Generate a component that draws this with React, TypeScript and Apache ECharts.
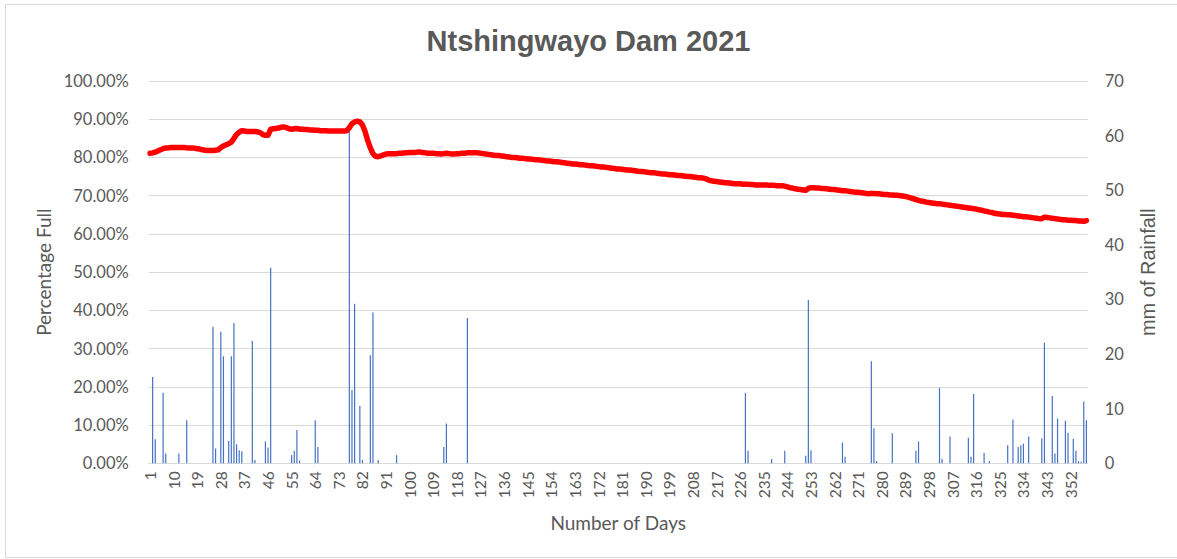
import React, { useEffect, useRef } from "react";
import * as echarts from "echarts";

const TITLE = "Ntshingwayo Dam 2021";
const DAY_COUNT = 358;
const days: string[] = Array.from({ length: DAY_COUNT }, (_, i) => String(i + 1));

// Percentage full, day by day
const pctFull: number[] = [
  // 1-27
  81.1, 81.2, 81.4, 81.7, 82.0, 82.3, 82.5,
  82.5, 82.6, 82.6, 82.6, 82.6, 82.6, 82.6, 82.5, 82.5, 82.5, 82.4,
  82.3, 82.2, 82.0, 81.9, 81.8, 81.8, 81.8, 81.9, 82.0,
  // 28-46
  82.6, 83.0, 83.3, 83.6, 84.0, 85.0, 86.0, 86.6, 87.0, 86.9,
  86.8, 86.8, 86.8, 86.8, 86.7, 86.5, 86.0, 85.8, 85.8,
  // 47-76
  87.4, 87.5, 87.6, 87.7, 87.9, 88.0, 87.8, 87.5, 87.4,
  87.5, 87.6, 87.4, 87.4, 87.3, 87.3, 87.2,
  87.2, 87.1, 87.1, 87.0, 87.0, 87.0, 86.9, 86.9, 86.9, 86.9, 86.9, 86.9, 86.9, 87.0,
  // 77-95
  87.8, 88.8, 89.3, 89.5, 89.3, 88.5, 86.8,
  84.4, 82.5, 81.0, 80.3, 80.2,
  80.4, 80.7, 80.9, 81.0, 81.0, 81.0, 81.0,
  // 96-137
  81.1, 81.1, 81.2, 81.2, 81.3, 81.3, 81.3, 81.4, 81.4, 81.3, 81.2, 81.1, 81.1, 81.1, 81.0,
  81.0, 80.9, 81.0, 81.1, 81.0, 80.9, 80.9, 81.0, 81.0, 81.1, 81.1, 81.2, 81.2, 81.2, 81.2,
  81.2, 81.1, 81.0, 80.9, 80.8, 80.7, 80.6, 80.5, 80.5, 80.4, 80.3, 80.2,
  // 138-175
  80.1, 80.0, 80.0, 79.9, 79.8, 79.8, 79.7, 79.6, 79.6, 79.5, 79.4, 79.4, 79.3, 79.2, 79.1, 79.1, 79.0, 78.9, 78.9,
  78.8, 78.7, 78.6, 78.5, 78.4, 78.3, 78.3, 78.2, 78.1, 78.1, 78.0, 77.9, 77.8, 77.8, 77.7, 77.6, 77.5, 77.5, 77.4,
  // 176-215
  77.3, 77.2, 77.1, 77.0, 77.0, 76.9, 76.8, 76.7, 76.7, 76.6, 76.5, 76.4, 76.3, 76.3, 76.2, 76.1, 76.0, 76.0, 75.9, 75.8, 75.7, 75.7, 75.6, 75.5, 75.5,
  75.4, 75.3, 75.3, 75.2, 75.1, 75.0, 75.0, 74.9, 74.8, 74.7, 74.7, 74.6, 74.4, 74.1, 73.9,
  // 216-258
  73.8, 73.7, 73.6, 73.5, 73.4, 73.4, 73.3, 73.2, 73.1, 73.1, 73.1, 73.0, 73.0, 73.0, 72.9, 72.9, 72.8,
  72.8, 72.8, 72.8, 72.8, 72.7, 72.7, 72.7, 72.6, 72.6, 72.6, 72.5, 72.3, 72.1, 72.0, 71.8, 71.7, 71.6, 71.5,
  71.4, 71.9, 72.1, 72.1, 72.0, 72.0, 71.9, 71.9,
  // 259-290
  71.8, 71.7, 71.6, 71.6, 71.5, 71.4, 71.3, 71.3, 71.2, 71.1,
  71.0, 70.9, 70.9, 70.8, 70.7, 70.6, 70.5, 70.6, 70.6, 70.5,
  70.5, 70.4, 70.3, 70.3, 70.2, 70.2, 70.1, 70.1, 70.0, 69.9,
  69.8, 69.6,
  // 291-330
  69.4, 69.2, 69.0, 68.8, 68.6, 68.5, 68.3, 68.2, 68.1, 68.0,
  67.9, 67.9, 67.8, 67.7, 67.6, 67.5, 67.4, 67.3, 67.2, 67.1,
  67.0, 66.9, 66.8, 66.7, 66.6, 66.5, 66.3, 66.2, 66.0, 65.9,
  65.7, 65.6, 65.4, 65.3, 65.2, 65.1, 65.1, 65.0, 65.0, 64.9,
  // 331-358
  64.8, 64.7, 64.6, 64.5, 64.5, 64.4, 64.3, 64.2, 64.1, 64.0, 64.0, 64.4, 64.3, 64.2, 64.1,
  64.0, 63.9, 63.8, 63.7, 63.7, 63.6, 63.6, 63.5, 63.5, 63.4, 63.4, 63.3, 63.5,
];

// Rainfall: days with rain and their mm
const rainDays: number[] = [
  2, 3, 6, 7, 12, 15, 25, 26, 28, 29, 31, 32, 33, 34, 35, 36, 40, 41, 45, 46, 47,
  55, 56, 57, 58, 64, 65, 77, 78, 79, 81, 82, 85, 86, 88, 95, 113, 114, 122,
  228, 229, 238, 243, 251, 252, 253, 265, 266, 276, 277, 278, 284, 293, 294,
  302, 303, 306, 313, 314, 315, 319, 321, 328, 330, 332, 333, 334, 336,
  341, 342, 345, 346, 347, 350, 351, 353, 354, 355, 356, 357, 358,
];
const rainMm: number[] = [
  15.8, 4.4, 12.9, 1.8, 1.8, 7.9, 25.0, 2.7, 24.1, 19.6, 4.1, 19.6, 25.7, 3.5, 2.4, 2.2, 22.4, 0.6, 4.0, 2.9, 35.8,
  1.5, 2.3, 6.1, 0.5, 7.9, 3.0, 61.0, 13.4, 29.2, 10.5, 0.6, 19.8, 27.6, 0.6, 1.5, 3.0, 7.3, 26.6,
  12.9, 2.3, 0.8, 2.3, 1.4, 29.9, 2.4, 3.8, 1.2, 18.7, 6.4, 0.4, 5.5, 2.3, 4.0,
  13.8, 0.8, 4.9, 4.7, 1.2, 12.7, 1.9, 0.4, 3.3, 8.0, 3.0, 3.3, 3.6, 4.9,
  4.6, 22.1, 12.3, 1.8, 8.2, 7.8, 5.6, 4.5, 2.3, 0.4, 0.3, 11.3, 7.9,
];

const rainfall: number[] = days.map(() => 0);
rainDays.forEach((d, i) => {
  rainfall[d - 1] = rainMm[i];
});

const GREY = "#595959";
const GRID = "#D9D9D9";

export default function App() {
  const ref = useRef<HTMLDivElement>(null);
  useEffect(() => {
    if (!ref.current) return;
    const chart = echarts.init(ref.current, null, { renderer: "svg" });
    chart.setOption({
      animation: false,
      backgroundColor: "#ffffff",
      title: {
        text: TITLE,
        left: "center",
        top: 21,
        textStyle: {
          fontFamily: "Liberation Sans",
          fontWeight: "bold",
          fontSize: 29,
          color: GREY,
        },
      },
      graphic: [
        {
          type: "rect",
          shape: { x: 5.5, y: 4.5, width: 1175, height: 553 },
          style: { fill: "none", stroke: GRID, lineWidth: 1 },
          silent: true,
        },
      ],
      grid: { left: 148.7, right: 89.3, top: 81, bottom: 95.7, containLabel: false },
      xAxis: {
        type: "category",
        data: days,
        boundaryGap: true,
        axisTick: { show: false },
        axisLine: { lineStyle: { color: GRID, width: 1 } },
        axisLabel: {
          interval: 8,
          rotate: 90,
          fontFamily: "Lato",
          fontSize: 15.5,
          color: GREY,
          margin: 8,
        },
        name: "Number of Days",
        nameLocation: "middle",
        nameGap: 50,
        nameTextStyle: { fontFamily: "Lato", fontSize: 19, color: GREY },
      },
      yAxis: [
        {
          type: "value",
          min: 0,
          max: 100,
          interval: 10,
          position: "left",
          axisLine: { show: false },
          axisTick: { show: false },
          splitLine: { lineStyle: { color: GRID, width: 1 } },
          axisLabel: {
            formatter: (v: number) => v.toFixed(2) + "%",
            fontFamily: "Lato",
            fontSize: 16.5,
            color: GREY,
            margin: 20,
          },
          name: "Percentage Full",
          nameLocation: "middle",
          nameRotate: 90,
          nameGap: 94,
          nameTextStyle: { fontFamily: "Lato", fontSize: 19, color: GREY },
        },
        {
          type: "value",
          min: 0,
          max: 70,
          interval: 10,
          position: "right",
          axisLine: { show: false },
          axisTick: { show: false },
          splitLine: { show: false },
          axisLabel: {
            fontFamily: "Lato",
            fontSize: 16.5,
            color: GREY,
            margin: 17,
          },
          name: "mm of Rainfall",
          nameLocation: "middle",
          nameRotate: 90,
          nameGap: 50,
          nameTextStyle: { fontFamily: "Liberation Sans", fontSize: 20, color: GREY },
        },
      ],
      series: [
        {
          name: "Rainfall",
          type: "bar",
          yAxisIndex: 1,
          data: rainfall,
          barWidth: 1.2,
          itemStyle: { color: "#4472C4" },
          z: 2,
        },
        {
          name: "Percentage Full",
          type: "line",
          yAxisIndex: 0,
          data: pctFull,
          showSymbol: false,
          symbol: "none",
          lineStyle: { color: "#FF0000", width: 5.5, cap: "round", join: "round" },
          z: 3,
        },
      ],
    });
    return () => chart.dispose();
  }, []);
  return (
    <div
      ref={ref}
      style={{ position: "fixed", left: 0, top: 0, width: 1177, height: 559 }}
    />
  );
}
